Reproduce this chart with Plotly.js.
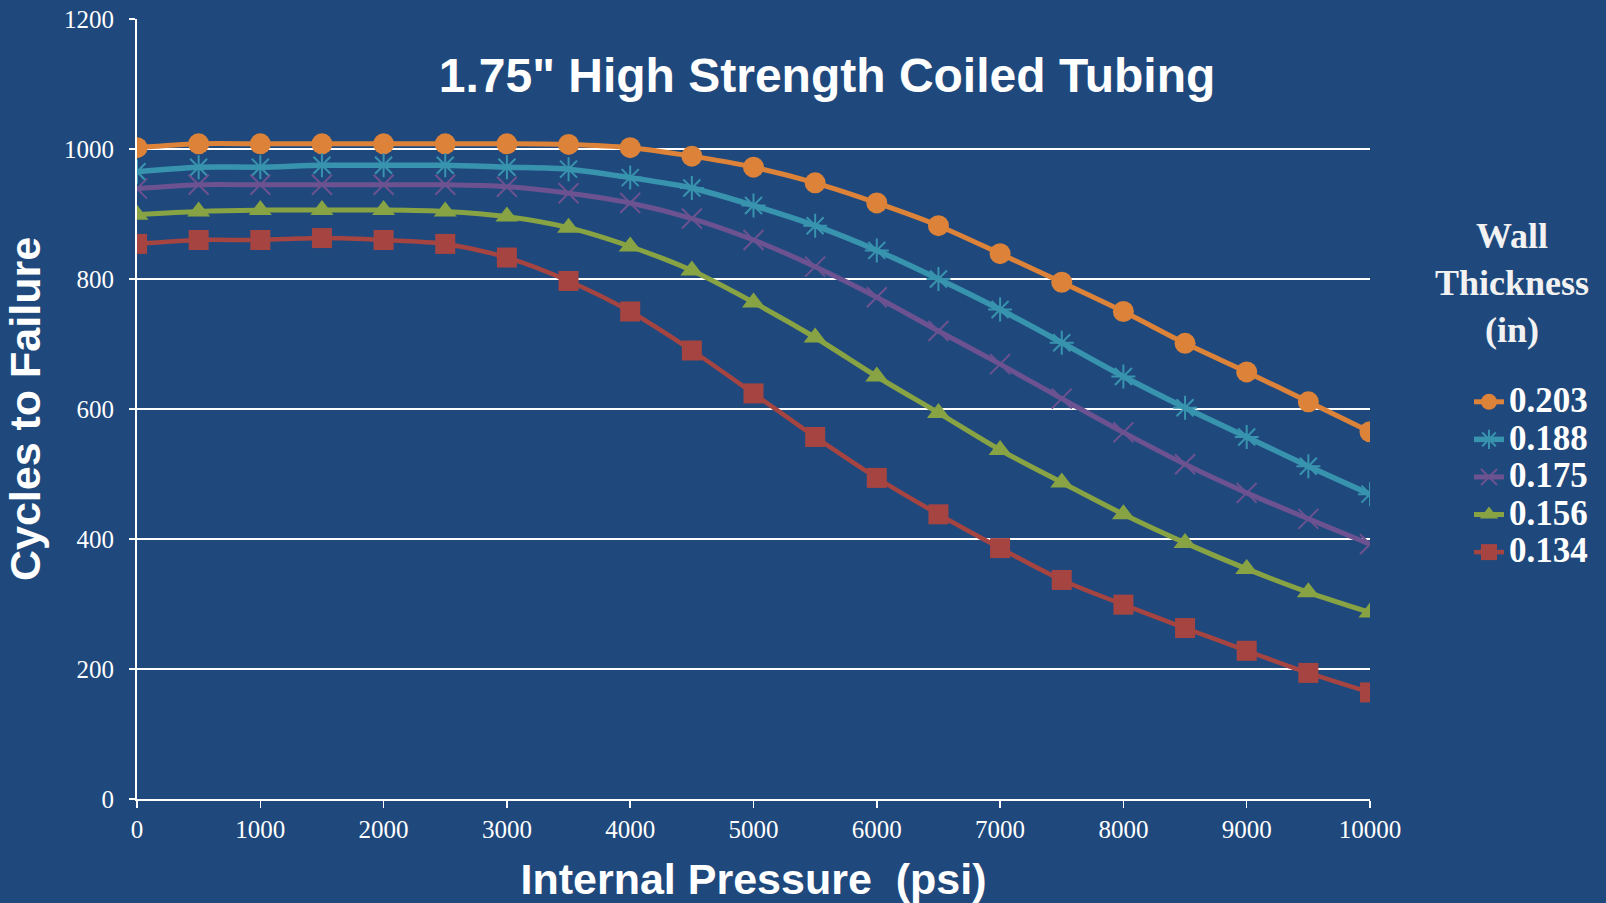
<!DOCTYPE html>
<html>
<head>
<meta charset="utf-8">
<script src="https://cdn.plot.ly/plotly-3.0.1.min.js"></script>
<style>html,body{margin:0;padding:0;background:#1F497D;}#chart{width:1606px;height:903px;}</style>
</head>
<body>
<div id="chart"></div>
<script>
const pressure = [0,500,1000,1500,2000,2500,3000,3500,4000,4500,5000,5500,6000,6500,7000,7500,8000,8500,9000,9500,10000];
const seriesNames = ["0.203","0.188","0.175","0.156","0.134"];
const w203 = [1002,1008,1008,1008,1008,1008,1008,1007,1002,989,972,948,917,882,839,795,750,701,657,611,565];
const w188 = [965,972,972,975,975,975,972,969,956,940,913,882,844,800,753,702,650,602,557,512,469];
const w175 = [939,945,945,945,945,945,942,932,917,893,860,819,772,720,669,616,564,515,471,431,392];
const w156 = [899,904,906,906,906,904,896,879,850,813,764,710,650,594,537,487,438,394,354,318,287];
const w134 = [854,860,860,863,860,854,833,797,750,690,624,557,494,438,386,337,299,263,228,194,164];
const xTicks = [0,1000,2000,3000,4000,5000,6000,7000,8000,9000,10000];
const yTicks = [0,200,400,600,800,1000,1200];

const values = [w203,w188,w175,w156,w134];
const colors = ["#DC8239","#3894AE","#6C5290","#88A343","#A64441"];
const symbols = ["circle","asterisk-open","x-thin-open","triangle-up","square"];
const sizes = [21,20,20,20,20];
const widths = [5,5.5,5,5,4.5];

const traces = values.map((v,i)=>({
  x: pressure, y: v, name: '<span style="font-size:35px">'+seriesNames[i]+'</span>',
  type:'scatter', mode:'lines+markers',
  line:{color:colors[i], width:widths[i], shape:'spline', smoothing:0.8},
  marker:{symbol:symbols[i], size:sizes[i], color:colors[i], line:{color:colors[i], width:(i===1||i===2)?2:0}}
}));

const layout = {
  width:1606, height:903,
  paper_bgcolor:'#1F497D', plot_bgcolor:'#1F497D',
  margin:{l:137, r:236, t:19, b:104},
  showlegend:true,
  title:{text:'1.75" High Strength Coiled Tubing', x:827/1606, xanchor:'center', y:1-75/903, yanchor:'middle',
    font:{family:'Liberation Sans, Arial, sans-serif', size:48, color:'#FFFFFF', weight:'bold'}},
  xaxis:{range:[0,10000], tickvals:xTicks, ticktext:xTicks.map(String), showgrid:false, zeroline:false,
    showline:true, linecolor:'#FFFFFF', linewidth:2, ticks:'outside', ticklen:7, tickwidth:1.5, tickcolor:'#FFFFFF',
    ticklabelstandoff:0,
    tickfont:{family:'Liberation Serif, Times New Roman, serif', size:25, color:'#FFFFFF'},
    title:{text:'Internal Pressure  (psi)', font:{family:'Liberation Sans, Arial, sans-serif', size:43, color:'#FFFFFF', weight:'bold'}, standoff:24}},
  yaxis:{range:[0,1200], tickvals:yTicks, ticktext:yTicks.map(String), showgrid:true, gridcolor:'#FFFFFF', gridwidth:1.5, zeroline:false,
    showline:true, linecolor:'#FFFFFF', linewidth:2, ticks:'outside', ticklen:6, tickwidth:1.5, tickcolor:'#FFFFFF',
    ticklabelstandoff:10,
    tickfont:{family:'Liberation Serif, Times New Roman, serif', size:25, color:'#FFFFFF'},
    title:{text:'Cycles to Failure', font:{family:'Liberation Sans, Arial, sans-serif', size:43, color:'#FFFFFF', weight:'bold'}, standoff:10}},
  legend:{x:(1469-137)/1233, xanchor:'left', y:(799-378)/780, yanchor:'top', bgcolor:'rgba(0,0,0,0)',
    font:{family:'Liberation Serif, Times New Roman, serif', size:26.6, color:'#FFFFFF', weight:'bold'}, tracegroupgap:0},
  annotations:[{text:'Wall<br>Thickness<br>(in)', xref:'paper', yref:'paper', x:(1512-137)/1233, y:(799-283)/780,
    xanchor:'center', yanchor:'middle', showarrow:false, align:'center',
    font:{family:'Liberation Serif, Times New Roman, serif', size:36, color:'#F2F2F2', weight:'bold'}}]
};
Plotly.newPlot('chart', traces, layout, {displayModeBar:false, staticPlot:true});
</script>
</body>
</html>
